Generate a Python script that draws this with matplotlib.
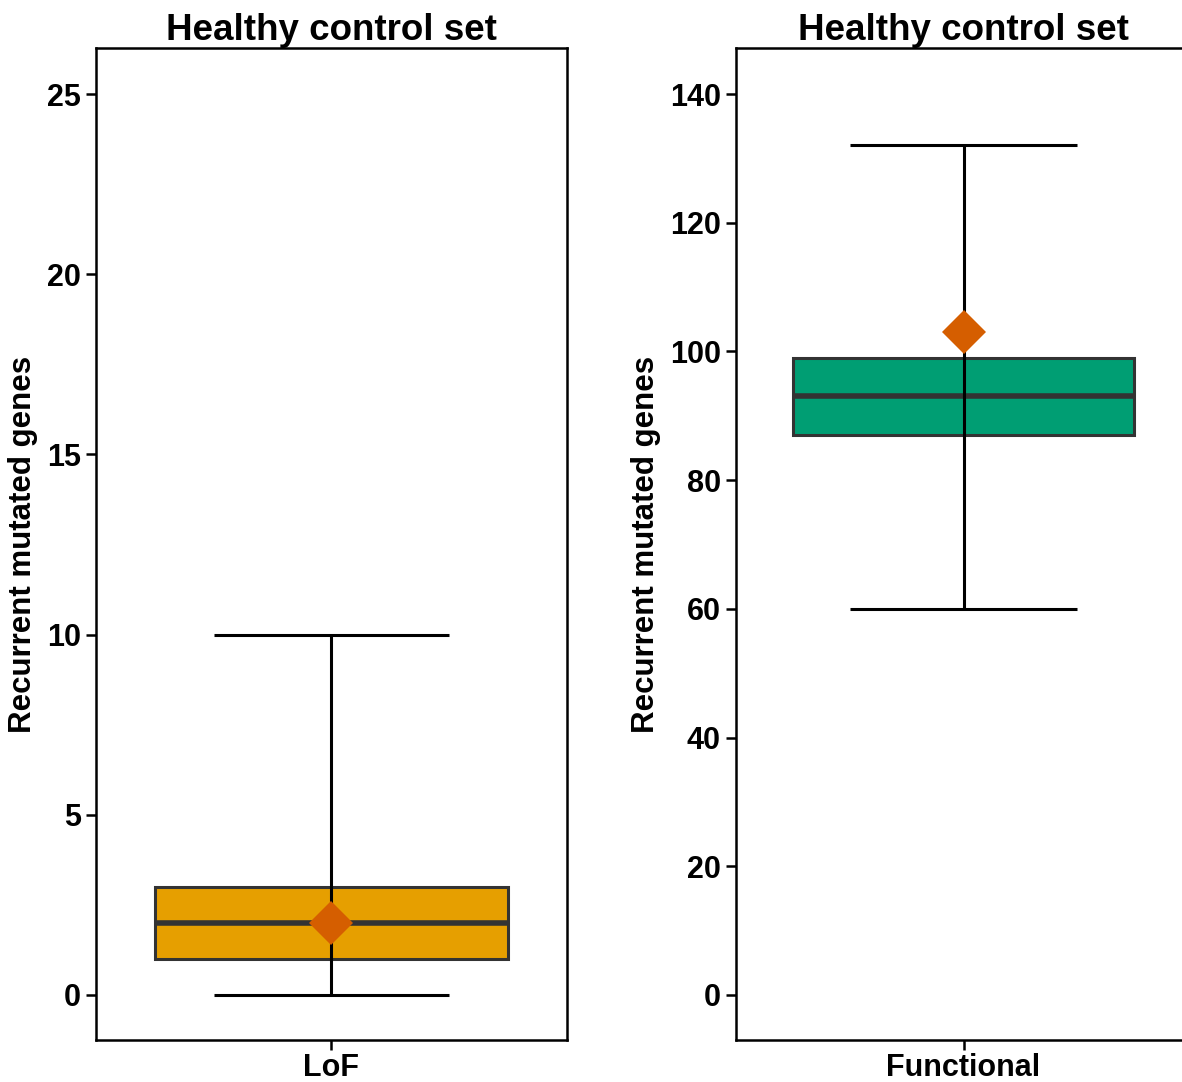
import matplotlib
matplotlib.use("Agg")
import matplotlib.pyplot as plt

plt.rcParams['font.family'] = ['Liberation Sans', 'DejaVu Sans']
plt.rcParams['font.weight'] = 'bold'

# box summaries
groups = ["LoF", "Functional"]
q1 = [1, 87]
median = [2, 93]
q3 = [3, 99]
whisker_lo = [0, 60]
whisker_hi = [10, 132]
means = [2, 103]
box_colors = ["#E69F00", "#009E73"]
y_ticks = [[0, 5, 10, 15, 20, 25], [0, 20, 40, 60, 80, 100, 120, 140]]
y_limits = [(-1.25, 26.28), (-7.0, 147.15)]

W, H = 1182, 1082
fig = plt.figure(figsize=(W / 100, H / 100), dpi=100)
panels = [
    fig.add_axes([96 / W, 42 / H, 471 / W, 992 / H]),
    fig.add_axes([736 / W, 42 / H, 455 / W, 992 / H]),
]

for i, ax in enumerate(panels):
    x = 1
    ax.bar(x, q3[i] - q1[i], bottom=q1[i], width=0.9, color=box_colors[i],
           edgecolor="#333333", linewidth=2.2, zorder=1)
    ax.hlines(median[i], x - 0.45, x + 0.45, color="#333333", linewidth=4, zorder=2)
    ax.vlines(x, whisker_lo[i], whisker_hi[i], color="black", linewidth=2.2, zorder=3)
    ax.hlines([whisker_lo[i], whisker_hi[i]], x - 0.3, x + 0.3, color="black",
              linewidth=2.2, zorder=3)
    ax.plot(x, means[i], marker="D", markersize=22.5, color="#D55E00",
            markeredgewidth=0, linestyle="none", zorder=4)

    ax.set_xlim(0.4, 1.6)
    ax.set_ylim(*y_limits[i])
    ax.set_xticks([x])
    ax.set_xticklabels([groups[i]], fontsize=22, fontweight="bold")
    ax.set_yticks(y_ticks[i])
    ax.set_yticklabels([str(t) for t in y_ticks[i]], fontsize=22, fontweight="bold")
    ax.tick_params(axis="both", length=7, width=1.8, color="black", pad=4)
    ax.tick_params(axis="x", pad=2)
    for s in ax.spines.values():
        s.set_linewidth(1.8)
        s.set_color("black")
    ax.set_ylabel("Recurrent mutated genes", fontsize=22.5, fontweight="bold", labelpad=6)
    ax.set_title("Healthy control set", fontsize=26.5, fontweight="bold", pad=5)

fig.savefig("out.png", dpi=100)
